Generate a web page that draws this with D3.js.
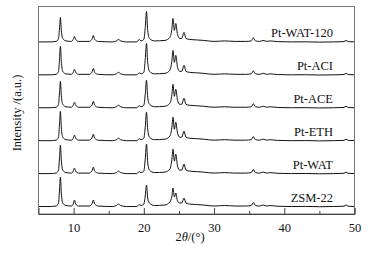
<!DOCTYPE html>
<html>
<head>
<meta charset="utf-8">
<script src="https://cdn.jsdelivr.net/npm/d3@7"></script>
<style>
  body { margin: 0; background: #fff; }
  text { font-family: "Liberation Serif", "Times New Roman", serif; fill: #111; }
</style>
</head>
<body>
<svg width="375" height="253"></svg>
<script>
var WIDTH = 375;
var HEIGHT = 253;

// sample names, bottom to top
var samples = ["ZSM-22", "Pt-WAT", "Pt-ETH", "Pt-ACE", "Pt-ACI", "Pt-WAT-120"];

// 2theta points the patterns are read at
var twoTheta = [5.0, 6.5, 7.5, 7.85, 8.0, 8.12, 8.25, 8.45, 8.9, 9.7,
    9.95, 10.12, 10.3, 10.7, 12.2, 12.6, 12.82, 13.0, 13.5, 15.5,
    16.1, 16.4, 16.7, 17.5, 19.0, 19.35, 19.6, 20.0, 20.2, 20.38,
    20.55, 20.8, 21.5, 23.0, 23.7, 24.0, 24.15, 24.35, 24.55, 24.8,
    25.1, 25.4, 25.72, 26.0, 26.5, 27.5, 28.5, 30.0, 31.5, 33.0,
    34.5, 35.3, 35.6, 35.9, 36.5, 37.0, 37.5, 38.0, 39.0, 41.0,
    43.0, 45.0, 47.0, 48.5, 48.8, 49.1, 50.0];

// intensities (a.u.), one list per sample
var zsm22 = [0.5, 0.5, 1, 4, 18, 30, 14, 4, 1.5, 1,
    3, 7, 3, 1, 1, 3, 7, 3, 1, 0.5,
    1.5, 3, 1.5, 0.5, 0.5, 2.5, 1.5, 3, 11, 22,
    9, 4, 1.5, 2, 5, 11, 19, 10, 14, 6,
    4, 4, 9, 4, 3, 2.5, 2, 1, 1.5, 1,
    1, 1.5, 4.5, 1.5, 1, 2, 1, 1.5, 0.8, 0.5,
    0.6, 0.3, 0.5, 0.8, 2, 0.8, 0.5];
var ptWat = [0.5, 0.5, 1, 4, 17, 29, 14, 4, 1.5, 1,
    3, 6, 3, 1, 1, 3, 7, 3, 1, 0.5,
    1.5, 3, 1.5, 0.5, 0.5, 2.5, 1.5, 3, 15, 30,
    12, 4, 1.5, 2, 5, 15, 25, 13, 20, 8,
    4, 4, 10, 4, 3, 2.5, 2, 1, 1.5, 1,
    1, 1.5, 4.5, 1.5, 1, 2, 1, 1.5, 0.8, 0.5,
    0.6, 0.3, 0.5, 0.8, 2, 0.8, 0.5];
var ptEth = [0.5, 0.5, 1, 4, 18, 30, 14, 4, 1.5, 1,
    3, 6, 3, 1, 1, 3, 7, 3, 1, 0.5,
    1.5, 3, 1.5, 0.5, 0.5, 2.5, 1.5, 3, 14, 29,
    12, 4, 1.5, 2, 5, 14, 24, 12, 19, 8,
    4, 4, 10, 4, 3, 2.5, 2, 1, 1.5, 1,
    1, 1.5, 4.5, 1.5, 1, 2, 1, 1.5, 0.8, 0.5,
    0.6, 0.3, 0.5, 0.8, 2, 0.8, 0.5];
var ptAce = [0.5, 0.5, 1, 4, 16, 27, 13, 4, 1.5, 1,
    3, 6, 3, 1, 1, 3, 7, 3, 1, 0.5,
    1.5, 3, 1.5, 0.5, 0.5, 2.5, 1.5, 3, 14, 28,
    11, 4, 1.5, 2, 5, 14, 24, 12, 19, 8,
    4, 4, 10, 4, 3, 2.5, 2, 1, 1.5, 1,
    1, 1.5, 4.5, 1.5, 1, 2, 1, 1.5, 0.8, 0.5,
    0.6, 0.3, 0.5, 0.8, 2, 0.8, 0.5];
var ptAci = [0.5, 0.5, 1, 4, 17, 29, 14, 4, 1.5, 1,
    3, 6, 3, 1, 1, 3, 7, 3, 1, 0.5,
    1.5, 3, 1.5, 0.5, 0.5, 2.5, 1.5, 3, 16, 32,
    13, 4, 1.5, 2, 5, 15, 25, 13, 20, 8,
    4, 4, 10, 4, 3, 2.5, 2, 1, 1.5, 1,
    1, 1.5, 4.5, 1.5, 1, 2, 1, 1.5, 0.8, 0.5,
    0.6, 0.3, 0.5, 0.8, 2, 0.8, 0.5];
var ptWat120 = [0.5, 0.5, 1, 4, 15, 25, 12, 4, 1.5, 1,
    3, 6, 3, 1, 1, 3, 7, 3, 1, 0.5,
    1.5, 3, 1.5, 0.5, 0.5, 3, 1.5, 3, 15, 31,
    12, 4, 1.5, 2, 5, 14, 24, 12, 19, 8,
    4, 4, 10, 4, 3, 2.5, 2, 1, 1.5, 1,
    1, 1.5, 4.5, 1.5, 1, 2, 1, 1.5, 0.8, 0.5,
    0.6, 0.3, 0.5, 0.8, 2, 0.8, 0.5];

var patterns = [zsm22, ptWat, ptEth, ptAce, ptAci, ptWat120];

var xTicks = [10, 20, 30, 40, 50];
var xMinor = [15, 25, 35, 45];
var stackStep = 33;

var margin = {top: 6.5, right: 20.5, bottom: 39, left: 38.5};

var svg = d3.select("svg")
    .attr("width", WIDTH)
    .attr("height", HEIGHT);

var x = d3.scaleLinear()
    .domain([5, 50])
    .range([margin.left, WIDTH - margin.right]);

var y = d3.scaleLinear()
    .domain([-7, 201])
    .range([HEIGHT - margin.bottom, margin.top]);

svg.append("clipPath").attr("id", "plot")
    .append("rect")
    .attr("x", margin.left).attr("y", margin.top)
    .attr("width", WIDTH - margin.left - margin.right)
    .attr("height", HEIGHT - margin.top - margin.bottom);

var line = d3.line()
    .x(function(d) { return x(d[0]); })
    .y(function(d) { return y(d[1]); })
    .curve(d3.curveMonotoneX);

patterns.forEach(function(p, i) {
    var pts = twoTheta.map(function(t, j) { return [t, p[j] + i * stackStep]; });
    svg.append("path")
        .attr("clip-path", "url(#plot)")
        .attr("d", line(pts))
        .attr("fill", "none")
        .attr("stroke", "#111")
        .attr("stroke-width", 1);

    svg.append("text")
        .attr("x", 333)
        .attr("y", y(i * stackStep) - 5)
        .attr("text-anchor", "end")
        .style("font-size", "12.5px")
        .text(samples[i]);
});

// frame
svg.append("rect")
    .attr("x", margin.left).attr("y", margin.top)
    .attr("width", WIDTH - margin.left - margin.right)
    .attr("height", HEIGHT - margin.top - margin.bottom)
    .attr("fill", "none")
    .attr("stroke", "#777")
    .attr("stroke-width", 1);

// bottom axis, ticks pointing in
var xAxis = svg.append("g")
    .attr("transform", "translate(0," + (HEIGHT - margin.bottom) + ")")
    .call(d3.axisBottom(x).tickValues(xTicks).tickSize(-6).tickPadding(9));
xAxis.select(".domain").attr("stroke", "#444");
xAxis.selectAll(".tick line").attr("stroke", "#444");
xAxis.selectAll(".tick text")
    .style("font-family", "Liberation Serif, serif")
    .style("font-size", "12.5px")
    .attr("fill", "#111");

svg.append("g")
    .attr("transform", "translate(0," + (HEIGHT - margin.bottom) + ")")
    .call(d3.axisBottom(x).tickValues(xMinor).tickSize(-3).tickFormat(""))
    .call(function(g) { g.select(".domain").remove(); })
    .selectAll("line").attr("stroke", "#444");

var xLabel = svg.append("text")
    .attr("x", 190)
    .attr("y", 241)
    .attr("text-anchor", "middle")
    .style("font-size", "12.5px");
xLabel.append("tspan").text("2");
xLabel.append("tspan").style("font-style", "italic").text("θ");
xLabel.append("tspan").text("/(°)");

svg.append("text")
    .attr("transform", "translate(21,113) rotate(-90)")
    .attr("text-anchor", "middle")
    .style("font-size", "12.5px")
    .text("Intensity /(a.u.)");
</script>
</body>
</html>
